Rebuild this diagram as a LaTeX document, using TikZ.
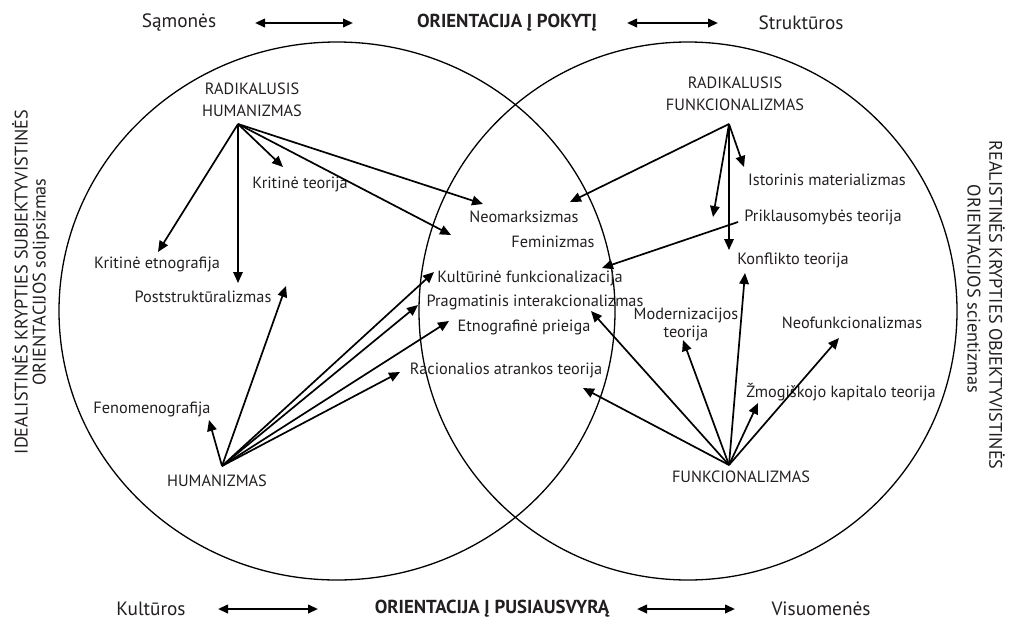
\documentclass[tikz,border=0pt]{standalone}
\usepackage{fontspec}
\setmainfont{PT Sans}
\usetikzlibrary{arrows.meta}
\definecolor{txt}{HTML}{231F20}
\begin{document}
\begin{tikzpicture}[x=1pt,y=-1pt,
  lbl/.style={font=\fontsize{16.3}{21.5}\selectfont, text=txt, inner sep=0pt, align=center},
  toplbl/.style={font=\fontsize{19.3}{22}\selectfont, text=txt, inner sep=0pt},
  boldlbl/.style={font=\fontsize{18.8}{22}\selectfont\bfseries, text=txt, inner sep=0pt},
  vtext/.style={font=\fontsize{18.2}{22}\selectfont, text=txt, inner sep=0pt},
  arr/.style={-{Triangle[length=11pt,width=9.5pt]}, line width=1.7pt},
  darr/.style={{Triangle[length=10pt,width=8.5pt]}-{Triangle[length=10pt,width=8.5pt]}, line width=2.2pt},
  ring/.style={line width=1.3pt}]
\useasboundingbox (0,0) rectangle (1010,622);

% circles
\draw[ring] (337,311) ellipse [x radius=278, y radius=269];
\draw[ring] (688,311) ellipse [x radius=269, y radius=269];

% top row
\node[toplbl] (samones) at (179,23) {Sąmonės};
\node[boldlbl] (pokyti) at (507,23) {ORIENTACIJA Į POKYTĮ};
\node[toplbl] (strukturos) at (801,23) {Struktūros};
\coordinate (ta1) at (255,23); \coordinate (tb1) at (353,23);
\coordinate (ta2) at (627,23); \coordinate (tb2) at (718,23);
\draw[darr] (ta1) -- (tb1);
\draw[darr] (ta2) -- (tb2);

% bottom row
\node[toplbl] (kulturos) at (151,609) {Kultūros};
\node[boldlbl] (pusiausvyra) at (492,609) {ORIENTACIJA Į PUSIAUSVYRĄ};
\node[toplbl] (visuomenes) at (821,609) {Visuomenės};
\coordinate (ba1) at (218,609); \coordinate (bb1) at (318,609);
\coordinate (ba2) at (637,609); \coordinate (bb2) at (735,609);
\draw[darr] (ba1) -- (bb1);
\draw[darr] (ba2) -- (bb2);

% side texts
\node[vtext, rotate=90] (idl1) at (20,282) {IDEALISTINĖS KRYPTIES SUBJEKTYVISTINĖS};
\node[vtext, rotate=90] (idl2) at (41,282) {ORIENTACIJOS solipsizmas};
\node[vtext, rotate=-90] (real1) at (997,305) {REALISTINĖS KRYPTIES OBJEKTYVISTINĖS};
\node[vtext, rotate=-90] (real2) at (974,289) {ORIENTACIJOS scientizmas};

% labels
\node[lbl] (radhum) at (252,100) {RADIKALUSIS\\HUMANIZMAS};
\node[lbl] (kritetn) at (157,264) {Kritinė etnografija};
\node[lbl] (poststr) at (203,297) {Poststruktūralizmas};
\node[lbl] (kritteor) at (300,184) {Kritinė teorija};
\node[lbl] (neomark) at (524,217) {Neomarksizmas};
\node[lbl] (femin) at (553,242) {Feminizmas};
\node[lbl] (kultfunk) at (530,278) {Kultūrinė funkcionalizacija};
\node[lbl] (pragm) at (535,302) {Pragmatinis interakcionalizmas};
\node[lbl] (etnopr) at (524,327) {Etnografinė prieiga};
\node[lbl] (racion) at (506,370) {Racionalios atrankos teorija};
\node[lbl] (fenom) at (152,409) {Fenomenografija};
\node[lbl] (hum) at (217,481) {HUMANIZMAS};

\node[lbl] (radfunk) at (735,94) {RADIKALUSIS\\FUNKCIONALIZMAS};
\node[lbl] (istmat) at (827,180) {Istorinis materializmas};
\node[lbl] (prikl) at (823,217) {Priklausomybės teorija};
\node[lbl] (konfl) at (793,260) {Konflikto teorija};
\node[lbl, font=\fontsize{16.3}{18}\selectfont] (modern) at (686,324) {Modernizacijos\\teorija};
\node[lbl] (neofunk) at (852,323) {Neofunkcionalizmas};
\node[lbl] (zmog) at (841,392) {Žmogiškojo kapitalo teorija};
\node[lbl] (funk) at (741,477) {FUNKCIONALIZMAS};

% roots
\coordinate (r1) at (238,124);
\coordinate (r2) at (222,466);
\coordinate (r3) at (729,124);
\coordinate (r4) at (729,465);
\coordinate (pr) at (738,222);

% tips from radikalusis humanizmas
\coordinate (t11) at (158,252);
\coordinate (t12) at (238,283);
\coordinate (t13) at (283,167);
\coordinate (t14) at (483,204);
\coordinate (t15) at (451,235);
\draw[arr] (r1) -- (t11);
\draw[arr] (r1) -- (t12);
\draw[arr] (r1) -- (t13);
\draw[arr] (r1) -- (t14);
\draw[arr] (r1) -- (t15);

% tips from humanizmas
\coordinate (t21) at (209,420);
\coordinate (t22) at (286,286);
\coordinate (t23) at (434,272);
\coordinate (t24) at (418,305);
\coordinate (t25) at (449,321);
\coordinate (t26) at (400,372);
\draw[arr] (r2) -- (t21);
\draw[arr] (r2) -- (t22);
\draw[arr] (r2) -- (t23);
\draw[arr] (r2) -- (t24);
\draw[arr] (r2) -- (t25);
\draw[arr] (r2) -- (t26);

% tips from radikalusis funkcionalizmas
\coordinate (t31) at (570,202);
\coordinate (t32) at (744,167);
\coordinate (t33) at (713,217);
\coordinate (t34) at (729,250);
\draw[arr] (r3) -- (t31);
\draw[arr] (r3) -- (t32);
\draw[arr] (r3) -- (t33);
\draw[arr] (r3) -- (t34);

% priklausomybes -> kulturine
\coordinate (t5) at (602,268);
\draw[arr] (pr) -- (t5);

% tips from funkcionalizmas
\coordinate (t41) at (583,388);
\coordinate (t42) at (591,311);
\coordinate (t43) at (683,340);
\coordinate (t44) at (745,273);
\coordinate (t45) at (758,403);
\coordinate (t46) at (839,338);
\draw[arr] (r4) -- (t41);
\draw[arr] (r4) -- (t42);
\draw[arr] (r4) -- (t43);
\draw[arr] (r4) -- (t44);
\draw[arr] (r4) -- (t45);
\draw[arr] (r4) -- (t46);
\end{tikzpicture}
\end{document}
